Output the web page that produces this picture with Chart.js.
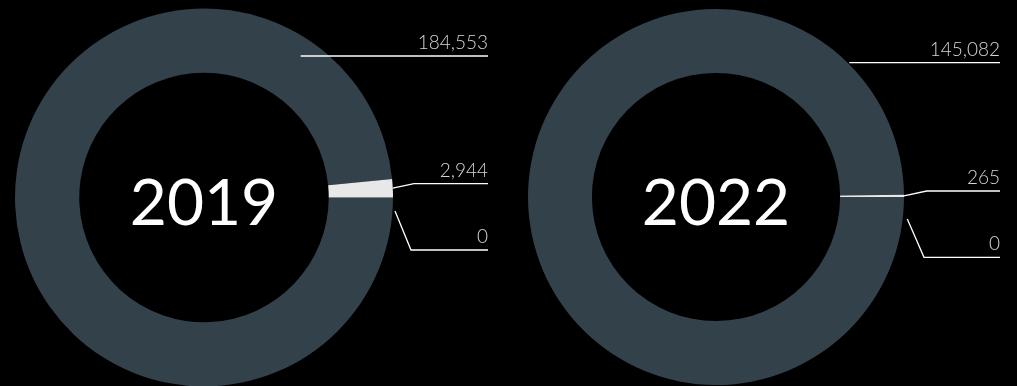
<!DOCTYPE html>
<html>
<head>
<meta charset="utf-8">
<script src="https://cdn.jsdelivr.net/npm/chart.js@4.4.1/dist/chart.umd.min.js"></script>
<style>
  html, body { margin: 0; padding: 0; background: #000; width: 1017px; height: 386px; overflow: hidden; }
  #wrap { position: relative; width: 1017px; height: 386px; overflow: hidden; }
  canvas { position: absolute; top: 0; }
</style>
</head>
<body>
<div id="wrap">
  <canvas id="c2019" width="508" height="390" style="left:0"></canvas>
  <canvas id="c2022" width="509" height="390" style="left:508px"></canvas>
</div>
<script>
// ---- data ----
const years = ["2019", "2022"];
const categories = ["Main", "Secondary", "Other"];
const values2019 = [184553, 2944, 0];
const values2022 = [145082, 265, 0];

const ringColors = ["#33414b", "#e8e8e8", "#e8e8e8"];
const FONT = "Lato, 'Noto Sans', sans-serif";

// label layout (relative to donut centre): per slice index
const labelLayouts = {
  "2019": [
    { startDx: 96.7, y: -141.5 },
    { startFromArc: true, elbowDx: 210, y: -13.8 },
    { startDx: 191, startDy: 13.5, elbowDx: 207, y: 52.5 }
  ],
  "2022": [
    { startDx: 133.3, y: -134.3 },
    { startFromArc: true, elbowDx: 210.7, y: -6 },
    { startDx: 191.3, startDy: 22, elbowDx: 208, y: 60.3 }
  ]
};
const labelEndDx = 284;

const fmt = v => v.toLocaleString("en-US");

const donutLabels = {
  id: "donutLabels",
  afterDraw(chart, args, opts) {
    const ctx = chart.ctx;
    const meta = chart.getDatasetMeta(0);
    const arcs = meta.data;
    if (!arcs.length) return;
    const cx = arcs[0].x, cy = arcs[0].y;
    const data = chart.data.datasets[0].data;
    const layout = labelLayouts[opts.year];
    ctx.save();
    // centre year
    ctx.fillStyle = "#ffffff";
    ctx.font = "400 64px " + FONT;
    ctx.textAlign = "center";
    ctx.textBaseline = "alphabetic";
    ctx.fillText(opts.year, cx, cy + 27.5);

    // leader lines & values
    ctx.strokeStyle = "#ffffff";
    ctx.lineWidth = 1.3;
    ctx.font = "300 19px " + FONT;
    ctx.textAlign = "right";
    ctx.fillStyle = "#d6d6d6";
    const endX = cx + labelEndDx;
    arcs.forEach((arc, i) => {
      const L = layout[i];
      const ly = cy + L.y;
      ctx.beginPath();
      if (i === 0) {
        ctx.moveTo(cx + L.startDx, ly);
      } else {
        let sx, sy;
        if (L.startFromArc) {
          const mid = (arc.startAngle + arc.endAngle) / 2;
          sx = cx + Math.cos(mid) * arc.outerRadius;
          sy = cy + Math.sin(mid) * arc.outerRadius;
        } else {
          sx = cx + L.startDx;
          sy = cy + L.startDy;
        }
        ctx.moveTo(sx, sy);
        ctx.lineTo(cx + L.elbowDx, ly);
      }
      ctx.lineTo(endX, ly);
      ctx.stroke();
      ctx.fillText(fmt(data[i]), endX, ly - 7);
    });
    ctx.restore();
  }
};

function makeChart(id, year, values, pad) {
  return new Chart(document.getElementById(id), {
    type: "doughnut",
    data: {
      labels: categories,
      datasets: [{
        data: values,
        backgroundColor: ringColors,
        borderWidth: 0,
        hoverOffset: 0
      }]
    },
    options: {
      responsive: false,
      animation: false,
      cutout: "66%",
      rotation: 90,
      layout: { padding: pad },
      events: [],
      plugins: {
        legend: { display: false },
        tooltip: { enabled: false },
        donutLabels: { year: year }
      }
    },
    plugins: [donutLabels]
  });
}

makeChart("c2019", years[0], values2019, { left: 15, right: 115, top: 8.5, bottom: 390 - 8.5 - 378 });
makeChart("c2022", years[1], values2022, { left: 20, right: 509 - 20 - 376, top: 9, bottom: 390 - 9 - 376 });
</script>
</body>
</html>
